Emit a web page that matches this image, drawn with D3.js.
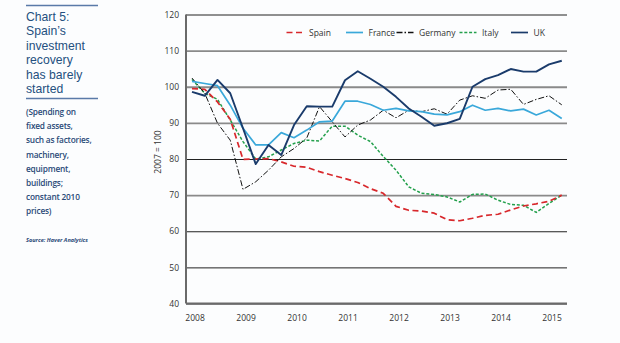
<!DOCTYPE html>
<html>
<head>
<meta charset="utf-8">
<script src="https://cdn.jsdelivr.net/npm/d3@7"></script>
<style>
  body { margin: 0; background: #fcfdfe; }
  svg { display: block; }
  .tick text { font-family: "Open Sans", sans-serif; font-size: 8.5px; fill: #333; }
</style>
</head>
<body>
<div id="chart"></div>
<script>
// Quarterly index, 2007 = 100, 2008Q1 .. 2015Q2
const years = [2008, 2009, 2010, 2011, 2012, 2013, 2014, 2015];
const yTicks = [40, 50, 60, 70, 80, 90, 100, 110, 120];
const seriesNames = ["Spain", "France", "Germany", "Italy", "UK"];

const spain = [99.5, 99.3, 95.8, 91.0, 79.9, 80.0, 80.1, 79.2, 78.0, 77.7, 76.5, 75.5, 74.6, 73.5, 71.8,
  70.5, 66.9, 65.8, 65.6, 65.0, 63.2, 62.9, 63.6, 64.4, 64.7, 65.9, 67.0, 67.6, 68.3, 70.0];
const france = [101.5, 100.9, 100.3, 94.9, 88.5, 83.9, 83.9, 87.3, 85.9, 88.0, 90.3, 90.5, 96.0, 96.0, 95.1,
  93.5, 94.0, 93.3, 93.1, 92.4, 92.2, 93.1, 94.9, 93.5, 94.0, 93.3, 93.8, 92.2, 93.5, 91.2];
const germany = [102.4, 98.2, 89.9, 85.2, 71.6, 73.7, 76.9, 80.6, 82.9, 85.8, 94.5, 90.3, 86.1, 89.4, 90.8,
  93.5, 91.4, 93.5, 93.1, 93.9, 92.4, 96.3, 97.5, 96.8, 99.1, 99.3, 95.1, 96.5, 97.5, 95.0];
const italy = [102.0, 98.2, 96.5, 90.8, 84.8, 80.0, 80.6, 82.5, 84.3, 85.2, 85.0, 89.1, 89.1, 86.6, 84.8,
  80.7, 76.9, 72.3, 70.5, 70.2, 69.5, 68.1, 70.2, 70.3, 68.6, 67.4, 67.2, 65.2, 67.7, 70.0];
const uk = [98.6, 97.5, 101.9, 98.2, 88.5, 78.6, 83.9, 81.1, 89.4, 94.6, 94.5, 94.5, 101.8, 104.3, 102.2,
  100.0, 97.2, 94.0, 91.7, 89.2, 89.9, 91.1, 100.0, 102.1, 103.2, 104.9, 104.2, 104.2, 106.2, 107.2];

const W = 620, H = 343;
const margin = {top: 14.5, left: 186, right: 53, bottom: 39.5};
const width = W - margin.left - margin.right,
      height = H - margin.top - margin.bottom;

const svg = d3.select("#chart").append("svg")
  .attr("width", W)
  .attr("height", H);

// ---- left text panel ----
const panel = svg.append("g");
panel.append("line").attr("x1", 26).attr("x2", 98).attr("y1", 5.5).attr("y2", 5.5)
  .attr("stroke", "#5a7aa8").attr("stroke-width", 1.5);
panel.append("line").attr("x1", 26).attr("x2", 98).attr("y1", 98.5).attr("y2", 98.5)
  .attr("stroke", "#5a7aa8").attr("stroke-width", 1.5);

const titleLines = ["Chart 5:", "Spain\u2019s", "investment", "recovery", "has barely", "started"];
const title = panel.append("text")
  .attr("x", 26).attr("y", 21)
  .attr("font-family", "'Liberation Sans', Arial, sans-serif")
  .attr("font-size", 12.2)
  .attr("fill", "#24507f");
title.selectAll("tspan").data(titleLines).enter().append("tspan")
  .attr("x", 26)
  .attr("dy", (d, i) => i === 0 ? 0 : 14.4)
  .text(d => d);

const subLines = ["(Spending on", "fixed assets,", "such as factories,", "machinery,", "equipment,",
  "buildings;", "constant 2010", "prices)"];
const sub = panel.append("text")
  .attr("x", 26).attr("y", 115)
  .attr("font-family", "'Open Sans', sans-serif")
  .attr("font-size", 8.3)
  .attr("font-weight", 600)
  .attr("fill", "#2a4a78")
  .attr("letter-spacing", -0.2);
sub.selectAll("tspan").data(subLines).enter().append("tspan")
  .attr("x", 26)
  .attr("dy", (d, i) => i === 0 ? 0 : 14.2)
  .text(d => d);

panel.append("text")
  .attr("x", 26).attr("y", 241.5)
  .attr("font-family", "'Open Sans', sans-serif")
  .attr("font-size", 5.6)
  .attr("font-weight", 700)
  .attr("font-style", "italic")
  .attr("fill", "#2a4a78")
  .text("Source: Haver Analytics");

// ---- chart ----
const g = svg.append("g").attr("transform", `translate(${margin.left},${margin.top})`);

const x = d3.scaleLinear().domain([0, spain.length - 1]).range([6, width - 5.25]);
const y = d3.scaleLinear().domain([40, 120]).range([height, 0]);

// gridlines + y axis labels
const yAxis = g.append("g")
  .call(d3.axisLeft(y).tickValues(yTicks).tickSize(-width).tickPadding(6));
yAxis.select(".domain").remove();
yAxis.selectAll(".tick line")
  .attr("stroke", d => [110, 100, 90, 70].includes(d) ? "#8a8a8a" : "#222")
  .attr("stroke-width", d => [110, 100, 90, 70].includes(d) ? 1.8 : 1);
yAxis.selectAll(".tick text").attr("dx", -1);

// axis frame (left + bottom)
g.append("line").attr("x1", 0).attr("x2", 0).attr("y1", 0).attr("y2", height)
  .attr("stroke", "#6a6a6a").attr("stroke-width", 2);
g.append("line").attr("x1", 0).attr("x2", width).attr("y1", height).attr("y2", height)
  .attr("stroke", "#6a6a6a").attr("stroke-width", 2);

// x labels
const xAxis = g.append("g")
  .attr("transform", `translate(0,${height})`)
  .call(d3.axisBottom(x)
    .tickValues(years.map(yr => (yr - 2008) * 4 + 0.2))
    .tickFormat((d, i) => years[i])
    .tickSize(0).tickPadding(11));
xAxis.select(".domain").remove();

// y title
g.append("text")
  .attr("transform", `translate(${161 - margin.left},${152 - margin.top}) rotate(-90)`)
  .attr("text-anchor", "middle")
  .attr("font-family", "'Open Sans', sans-serif")
  .attr("font-size", 8.5)
  .attr("fill", "#333")
  .text("2007 = 100");

// series
const styles = {
  Spain:   {data: spain,   color: "#d8282c", width: 1.7, dash: "6,3.5"},
  France:  {data: france,  color: "#3aa8da", width: 1.7, dash: null},
  Germany: {data: germany, color: "#111",    width: 1,   dash: "6,2,1.5,2"},
  Italy:   {data: italy,   color: "#23a04c", width: 1.5, dash: "3,1.8"},
  UK:      {data: uk,      color: "#1a3b6b", width: 1.9, dash: null}
};

const line = d3.line().x((d, i) => x(i)).y(d => y(d));

["Italy", "Spain", "Germany", "France", "UK"].forEach(name => {
  const s = styles[name];
  g.append("path")
    .datum(s.data)
    .attr("fill", "none")
    .attr("stroke", s.color)
    .attr("stroke-width", s.width)
    .attr("stroke-dasharray", s.dash)
    .attr("stroke-linejoin", "round")
    .attr("d", line);
});

// legend
const legendX = [286.5, 346, 396.5, 459.5, 511];
const legend = svg.append("g");
seriesNames.forEach((name, i) => {
  const s = styles[name];
  legend.append("line")
    .attr("x1", legendX[i]).attr("x2", legendX[i] + 17)
    .attr("y1", 32.5).attr("y2", 32.5)
    .attr("stroke", s.color)
    .attr("stroke-width", name === "Germany" ? 1.6 : 1.7)
    .attr("stroke-dasharray", name === "Spain" ? "6,3.5" : name === "Italy" ? "3,1.8" : name === "Germany" ? "6,2,1.5,2" : null);
  legend.append("text")
    .attr("x", legendX[i] + 22.5).attr("y", 35.5)
    .attr("font-family", "'Open Sans', sans-serif")
    .attr("font-size", 8.5)
    .attr("fill", "#333")
    .text(name);
});
</script>
</body>
</html>
